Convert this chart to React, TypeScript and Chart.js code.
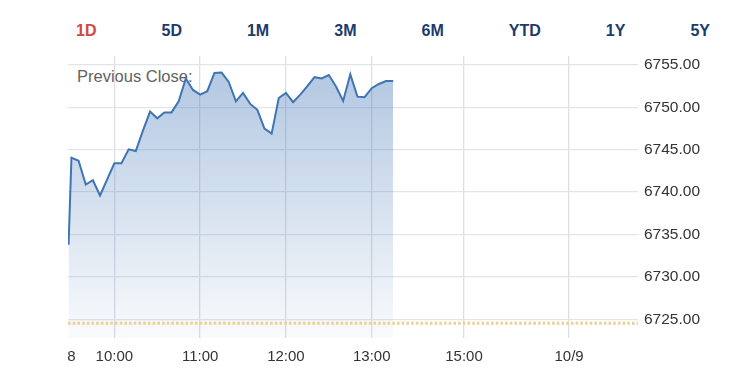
import React, { useEffect, useRef } from "react";
import { Chart, registerables } from "chart.js";

Chart.register(...registerables);

// ---- data ----
const times = [
  "09:28", "09:30", "09:35", "09:40", "09:45", "09:50", "09:55",
  "10:00", "10:05", "10:10", "10:15", "10:20", "10:25", "10:30", "10:35", "10:40", "10:45", "10:50", "10:55",
  "11:00", "11:05", "11:10", "11:15", "11:20", "11:25", "11:30", "11:35", "11:40", "11:45", "11:50", "11:55",
  "12:00", "12:05", "12:10", "12:15", "12:20", "12:25", "12:30", "12:35", "12:40", "12:45", "12:50", "12:55",
  "13:00", "13:05", "13:10", "13:15",
];
const prices = [
  6733.8, 6744.06, 6743.7, 6740.9, 6741.4, 6739.6, 6741.5,
  6743.4, 6743.4, 6745.05, 6744.85, 6747.25, 6749.5, 6748.7, 6749.4, 6749.4, 6750.7, 6753.4, 6752.05,
  6751.5, 6751.9, 6754.05, 6754.1, 6753.0, 6750.7, 6751.7, 6750.4, 6749.7, 6747.5, 6746.9, 6751.1,
  6751.7, 6750.6, 6751.5, 6752.5, 6753.55, 6753.4, 6753.8, 6752.45, 6750.75, 6753.9, 6751.26, 6751.2,
  6752.25, 6752.75, 6753.1, 6753.1,
];
const previousClose = 6724.55;

const rangeButtons = ["1D", "5D", "1M", "3M", "6M", "YTD", "1Y", "5Y"];
const activeRange = "1D";

const xTickMinutes = [570, 600, 660, 720, 780, 844.5, 918];
const xTickLabels = ["8", "10:00", "11:00", "12:00", "13:00", "15:00", "10/9"];
const yTickValues = [6725, 6730, 6735, 6740, 6745, 6750, 6755];

const X_MIN = 567.6;
const X_MAX = 966.2;
const Y_MIN = 6722.8;
const Y_MAX = 6756.05;

const FONT = '"Liberation Sans", Arial, Helvetica, sans-serif';

const toMin = (s: string) => {
  const [h, m] = s.split(":").map(Number);
  return h * 60 + m;
};

export default function App() {
  const canvasRef = useRef<HTMLCanvasElement | null>(null);

  useEffect(() => {
    if (!canvasRef.current) return;
    const chart = new Chart(canvasRef.current, {
      type: "line",
      data: {
        datasets: [
          {
            data: [
              { x: X_MIN, y: previousClose },
              { x: X_MAX, y: previousClose },
            ],
            borderColor: "#efd08f",
            borderWidth: 3,
            borderDash: [2.6, 2.1],
            pointRadius: 0,
            fill: false,
            order: 0,
          },
          {
            data: times.map((t, i) => ({ x: toMin(t), y: prices[i] })),
            borderColor: "#3f74b5",
            borderWidth: 2,
            pointRadius: 0,
            tension: 0,
            fill: "start",
            order: 1,
            backgroundColor: (ctx: any) => {
              const { chart } = ctx;
              const area = chart.chartArea;
              if (!area) return "rgba(63,116,181,0.2)";
              const g = chart.ctx.createLinearGradient(0, area.top, 0, area.bottom);
              g.addColorStop(0, "rgba(63,116,181,0.42)");
              g.addColorStop(1, "rgba(63,116,181,0.03)");
              return g;
            },
          },
        ],
      },
      options: {
        animation: false,
        responsive: false,
        devicePixelRatio: 1,
        layout: { padding: { left: 68, top: 56, right: 0, bottom: 0 } },
        plugins: { legend: { display: false }, tooltip: { enabled: false } },
        scales: {
          x: {
            type: "linear",
            position: "bottom",
            min: X_MIN,
            max: X_MAX,
            afterBuildTicks: (s: any) => {
              s.ticks = xTickMinutes.map((v) => ({ value: v }));
            },
            afterFit: (s: any) => {
              s.height = 37;
            },
            ticks: {
              autoSkip: false,
              maxRotation: 0,
              padding: 10,
              color: "#333",
              font: { family: FONT, size: 15 },
              callback: (v: any) => {
                const i = xTickMinutes.indexOf(Number(v));
                return i >= 0 ? xTickLabels[i] : "";
              },
            },
            grid: {
              color: (c: any) => (c.index === 0 ? "rgba(0,0,0,0)" : "#dcdfe5"),
              lineWidth: 1.3,
              drawTicks: false,
            },
            border: { display: false },
          },
          y: {
            type: "linear",
            position: "right",
            min: Y_MIN,
            max: Y_MAX,
            afterBuildTicks: (s: any) => {
              s.ticks = yTickValues.map((v) => ({ value: v }));
            },
            afterFit: (s: any) => {
              s.width = 112;
            },
            ticks: {
              padding: 6,
              color: "#333",
              font: { family: FONT, size: 15.5 },
              callback: (v: any) => Number(v).toFixed(2),
            },
            grid: { color: "#e1e5ea", lineWidth: 1.3, drawTicks: false },
            border: { display: false },
          },
        },
      },
    } as any);
    return () => chart.destroy();
  }, []);

  return (
    <div
      style={{
        position: "fixed",
        left: 0,
        top: 0,
        width: 750,
        height: 375,
        background: "#fff",
        overflow: "hidden",
      }}
    >
      <div
        style={{
          position: "absolute",
          left: 76,
          top: 22.6,
          width: 634,
          display: "flex",
          justifyContent: "space-between",
          fontFamily: FONT,
          fontWeight: "bold",
          fontSize: 16,
          lineHeight: 1,
        }}
      >
        {rangeButtons.map((b) => (
          <span key={b} style={{ color: b === activeRange ? "#d5463f" : "#1d3a6c" }}>
            {b}
          </span>
        ))}
      </div>
      <span
        style={{
          position: "absolute",
          left: 77,
          top: 68,
          fontFamily: FONT,
          fontSize: 16.5,
          lineHeight: 1,
          color: "#626262",
          zIndex: 0,
        }}
      >
        Previous Close:
      </span>
      <canvas
        ref={canvasRef}
        width={750}
        height={375}
        style={{ position: "absolute", left: 0, top: 0, zIndex: 1 }}
      />
    </div>
  );
}
